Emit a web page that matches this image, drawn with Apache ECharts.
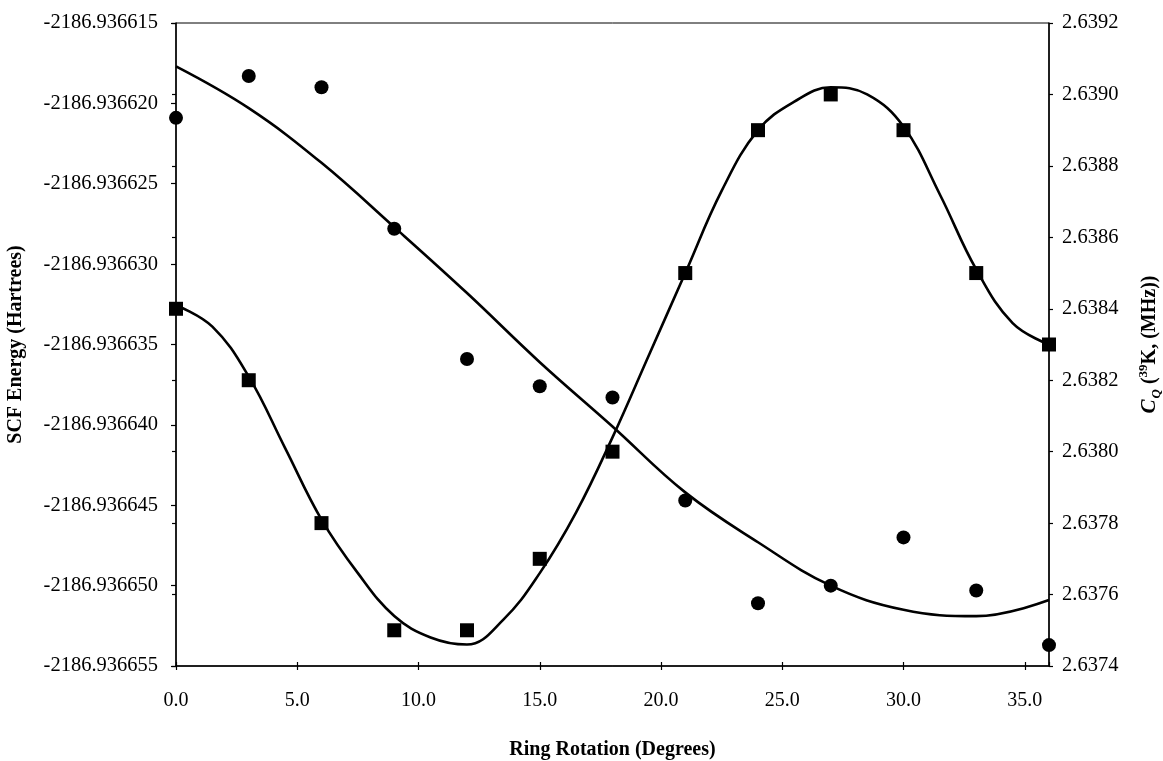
<!DOCTYPE html>
<html>
<head>
<meta charset="utf-8">
<script src="https://cdn.jsdelivr.net/npm/echarts@6/dist/echarts.min.js"></script>
<style>
html,body{margin:0;padding:0;background:#fff;}
#chart{width:1163px;height:761px;}
</style>
</head>
<body>
<div id="chart"></div>
<script>
// Ring rotation angles (degrees)
const rotation = [0, 3, 6, 9, 12, 15, 18, 21, 24, 27, 30, 33, 36];
// SCF energy (Hartrees), circles, left axis
const scfEnergy = [-2186.9366209, -2186.9366183, -2186.9366190, -2186.9366278, -2186.9366359,
  -2186.9366376, -2186.9366383, -2186.9366447, -2186.9366511, -2186.9366500,
  -2186.9366470, -2186.9366503, -2186.9366537];
// C_Q (39K) in MHz, squares, right axis
const cq = [2.6384, 2.6382, 2.6378, 2.6375, 2.6375, 2.6377, 2.6380, 2.6385, 2.6389, 2.6390, 2.6389, 2.6385, 2.6383];

// Fitted curve: SCF energy trend
const energyFitX = [0, 3, 6, 9, 12, 15, 18, 21, 24, 27, 30, 33, 36];
const energyFitY = [-2186.9366177, -2186.9366203, -2186.9366237, -2186.9366277,
  -2186.9366318, -2186.9366361, -2186.9366401, -2186.9366442, -2186.9366473,
  -2186.9366500, -2186.9366515, -2186.9366519, -2186.9366509];
// Fitted curve: C_Q trend
const cqFitX = [0, 1.5, 3, 4.5, 6, 7.5, 9, 10.5, 12, 13.5, 15, 16.5, 18, 19.5, 21, 22.5, 24, 25.5, 27, 28.5, 30, 31.5, 33, 34.5, 36];
const cqFitY = [2.63841, 2.63835, 2.63821, 2.63801, 2.63781, 2.63766, 2.63754, 2.63748, 2.63746,
  2.63753, 2.63766, 2.63783, 2.63804, 2.63827, 2.63850, 2.63873, 2.63890, 2.63898, 2.63902,
  2.63900, 2.63891, 2.63872, 2.63851, 2.63836, 2.63830];

// Axis tick settings
const xTicks = {min: 0, max: 36, interval: 5};
const leftTicks = {min: -2186.936655, max: -2186.936615, interval: 0.000005};
const rightTicks = {min: 2.6374, max: 2.6392, interval: 0.0002};

const zip = (a, b) => a.map((v, i) => [v, b[i]]);
const FONT = '"Liberation Serif", "Times New Roman", serif';

const chart = echarts.init(document.getElementById('chart'), null, {renderer: 'canvas'});
chart.setOption({
  animation: false,
  backgroundColor: '#fff',
  grid: {left: 176, right: 114, top: 23, bottom: 95, containLabel: false, outerBoundsMode: 'none',
    show: true, borderColor: '#000', borderWidth: 1, backgroundColor: 'transparent'},
  xAxis: [{
    type: 'value', position: 'bottom',
    min: xTicks.min, max: xTicks.max, interval: xTicks.interval,
    name: 'Ring Rotation (Degrees)', nameLocation: 'middle', nameGap: 74,
    nameTextStyle: {fontFamily: FONT, fontWeight: 'bold', fontSize: 20, color: '#000'},
    axisLine: {show: true, onZero: false, lineStyle: {color: '#000', width: 1.5}},
    axisTick: {show: true, inside: false, length: 4, lineStyle: {color: '#000', width: 1.2}},
    axisLabel: {fontFamily: FONT, fontSize: 20, color: '#000', margin: 25, showMaxLabel: false,
      formatter: v => v.toFixed(1)},
    splitLine: {show: false}
  }, {
    type: 'value', position: 'bottom',
    min: xTicks.min, max: xTicks.max, interval: xTicks.interval,
    axisLine: {show: false}, axisLabel: {show: false},
    axisTick: {show: true, inside: true, length: 4, lineStyle: {color: '#000', width: 1.2}},
    splitLine: {show: false}
  }],
  yAxis: [{
    type: 'value', position: 'left',
    min: leftTicks.min, max: leftTicks.max, interval: leftTicks.interval,
    name: 'SCF Energy (Hartrees)', nameLocation: 'middle', nameGap: 150, nameRotate: 90,
    nameTextStyle: {fontFamily: FONT, fontWeight: 'bold', fontSize: 20, color: '#000'},
    axisLine: {show: true, onZero: false, lineStyle: {color: '#000', width: 1.5}},
    axisTick: {show: true, inside: false, length: 5, lineStyle: {color: '#000', width: 1.2}},
    axisLabel: {fontFamily: FONT, fontSize: 20.5, color: '#000', margin: 18,
      formatter: v => v.toFixed(6)},
    splitLine: {show: false}
  }, {
    type: 'value', position: 'right',
    min: rightTicks.min, max: rightTicks.max, interval: rightTicks.interval,
    name: '{ci|C}{sub|Q}{n| (}{sup|39}{n|K, (MHz))}', nameLocation: 'middle', nameGap: 88, nameRotate: 90,
    nameTextStyle: {
      fontFamily: FONT, fontWeight: 'bold', fontSize: 20, color: '#000',
      rich: {
        ci: {fontFamily: FONT, fontWeight: 'bold', fontStyle: 'italic', fontSize: 21, color: '#000', lineHeight: 26, verticalAlign: 'middle'},
        sub: {fontFamily: FONT, fontWeight: 'bold', fontStyle: 'italic', fontSize: 13, color: '#000', lineHeight: 26, verticalAlign: 'bottom', padding: [0, 0, 0, 1]},
        sup: {fontFamily: FONT, fontWeight: 'bold', fontSize: 13, color: '#000', lineHeight: 26, verticalAlign: 'top'},
        n: {fontFamily: FONT, fontWeight: 'bold', fontSize: 20, color: '#000', lineHeight: 26, verticalAlign: 'middle'}
      }
    },
    axisLine: {show: true, onZero: false, lineStyle: {color: '#000', width: 1.5}},
    axisTick: {show: true, inside: false, length: 4, lineStyle: {color: '#000', width: 1.2}},
    axisLabel: {fontFamily: FONT, fontSize: 20.5, color: '#000', margin: 13,
      formatter: v => v.toFixed(4)},
    splitLine: {show: false}
  }, {
    type: 'value', position: 'right',
    min: rightTicks.min, max: rightTicks.max, interval: rightTicks.interval,
    axisLine: {show: false}, axisLabel: {show: false},
    axisTick: {show: true, inside: true, length: 4, lineStyle: {color: '#000', width: 1.2}},
    splitLine: {show: false}
  }],
  series: [{
    name: 'Energy fit', type: 'line', xAxisIndex: 0, yAxisIndex: 0,
    data: zip(energyFitX, energyFitY), smooth: 0.4, showSymbol: false,
    lineStyle: {color: '#000', width: 2.6}, z: 2, silent: true
  }, {
    name: 'C_Q fit', type: 'line', xAxisIndex: 0, yAxisIndex: 1,
    data: zip(cqFitX, cqFitY), smooth: 0.4, showSymbol: false,
    lineStyle: {color: '#000', width: 2.6}, z: 2, silent: true
  }, {
    name: 'SCF Energy', type: 'scatter', xAxisIndex: 0, yAxisIndex: 0,
    data: zip(rotation, scfEnergy), symbol: 'circle', symbolSize: 14,
    itemStyle: {color: '#000', opacity: 1}, z: 3
  }, {
    name: 'C_Q', type: 'scatter', xAxisIndex: 0, yAxisIndex: 1,
    data: zip(rotation, cq), symbol: 'rect', symbolSize: 14,
    itemStyle: {color: '#000', opacity: 1}, z: 3
  }]
});
</script>
</body>
</html>
